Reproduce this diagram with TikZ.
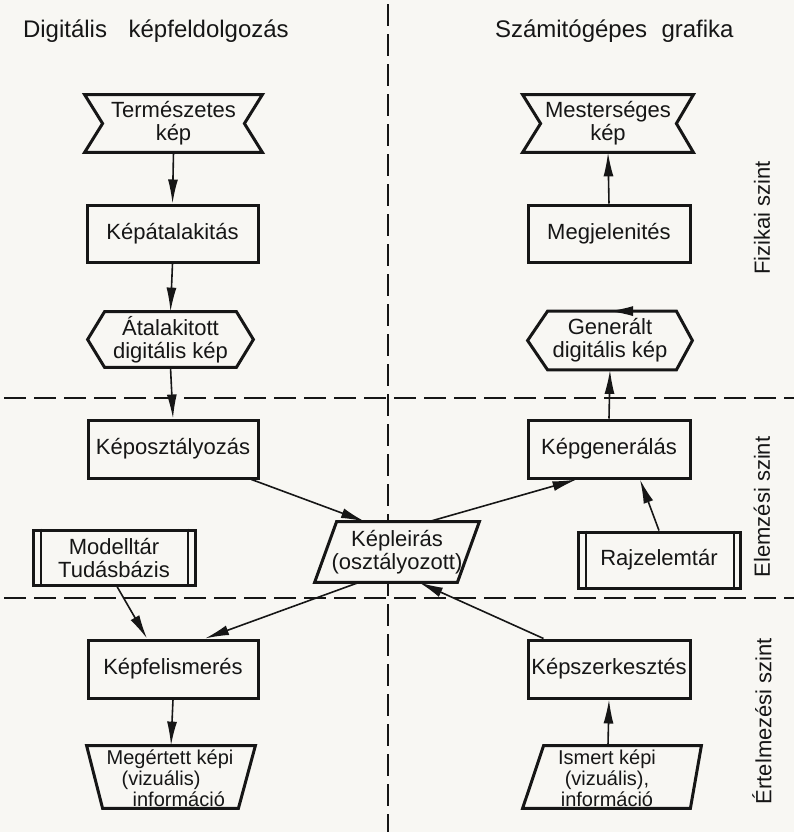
\documentclass[tikz,border=0pt]{standalone}
\usepackage{fontspec}
\setmainfont{Liberation Sans}
\usetikzlibrary{arrows.meta,calc}
\definecolor{paper}{RGB}{248,247,243}
\definecolor{ink}{RGB}{22,22,22}
\begin{document}
\begin{tikzpicture}[x=0.5pt,y=-0.5pt,
  every node/.style={font=\fontsize{11}{11.5}\selectfont, text=ink},
  frame/.style={draw=none, inner sep=0pt},
  box/.style={draw=ink, line width=1.5pt, fill=paper, inner sep=0pt, align=center},
  outline/.style={draw=ink, line width=1.5pt, fill=paper, line join=miter},
  inner/.style={draw=ink, line width=1pt},
  conn/.style={draw=ink, line width=0.8pt, -{Latex[length=12pt,width=5pt]}},
  sep/.style={draw=ink, line width=0.8pt, dash pattern=on 11pt off 4pt},
  tight/.style={font=\fontsize{10}{8.8}\selectfont},
  level/.style={rotate=90},
  head/.style={anchor=west, font=\fontsize{12}{13}\selectfont}]

\fill[paper] (0,0) rectangle (794,832);
\useasboundingbox (0,0) rectangle (794,832);

% separators
\draw[sep] (388,4) -- (388,832);
\draw[sep] (4,398) -- (794,398);
\draw[sep] (4,598) -- (794,598);

% headers and level labels
\node[head] (h1) at (16,31) {Digitális\hspace{0.9em}képfeldolgozás};
\node[head] (h2) at (488,31) {Számitógépes\hspace{0.6em}grafika};
\node[level] (l1) at (762,218) {Fizikai szint};
\node[level] (l2) at (762,507) {Elemzési szint};
\node[level] (l3) at (762,721) {Értelmezési szint};

% --- left column ---
\node[frame, minimum width=88.5pt, minimum height=28.5pt] (term) at (173.5,123.5) {};
\path[outline] (term.north west) -- (term.north east) -- ([xshift=-9pt]term.east)
  -- (term.south east) -- (term.south west) -- ([xshift=9pt]term.west) -- cycle;
\node[align=center] (term-t) at (term) {Természetes\\kép};

\node[box, minimum width=85.5pt, minimum height=28.5pt] (kat) at (172.5,233.5) {Képátalakitás};

\node[frame, minimum width=82.5pt, minimum height=27.5pt] (atal) at (170.5,339.5) {};
\path[outline] ([xshift=8.5pt]atal.north west) -- ([xshift=-8.5pt]atal.north east) -- (atal.east)
  -- ([xshift=-8.5pt]atal.south east) -- ([xshift=8.5pt]atal.south west) -- (atal.west) -- cycle;
\node[align=center] (atal-t) at (atal) {Átalakitott\\digitális kép};

\node[box, minimum width=85pt, minimum height=29pt] (kosz) at (173,449) {Képosztályozás};

\node[box, minimum width=81pt, minimum height=27.5pt] (modell) at (114,557.5) {Modelltár\\Tudásbázis};
\draw[inner] ([xshift=4.5pt]modell.north west) -- ([xshift=4.5pt]modell.south west);
\draw[inner] ([xshift=-4.5pt]modell.north east) -- ([xshift=-4.5pt]modell.south east);

\node[box, minimum width=85pt, minimum height=29pt] (kfel) at (173,669) {Képfelismerés};

\node[frame, minimum width=84pt, minimum height=31pt] (meg) at (171,777) {};
\path[outline] (meg.north west) -- (meg.north east) -- ([xshift=-8.5pt]meg.south east)
  -- ([xshift=8pt]meg.south west) -- cycle;
\node[tight, align=left] (meg-t) at (170,778) {Megértett képi\\\hspace*{7.5pt}(vizuális)\\\hspace*{13pt}információ};

% --- middle ---
\node[frame, minimum width=82pt, minimum height=30pt] (kleir) at (397,552) {};
\path[outline] ([xshift=11pt]kleir.north west) -- (kleir.north east) -- ([xshift=-11pt]kleir.south east)
  -- (kleir.south west) -- cycle;
\node[align=center] (kleir-t) at (kleir) {Képleirás\\(osztályozott)};

% --- right column ---
\node[frame, minimum width=85pt, minimum height=28.5pt] (mest) at (608,123.5) {};
\path[outline] (mest.north west) -- (mest.north east) -- ([xshift=-8.5pt]mest.east)
  -- (mest.south east) -- (mest.south west) -- ([xshift=9pt]mest.west) -- cycle;
\node[align=center] (mest-t) at (mest) {Mesterséges\\kép};

\node[box, minimum width=81pt, minimum height=28.5pt] (megj) at (609,233.5) {Megjelenités};

\node[frame, minimum width=82pt, minimum height=29pt] (gen) at (610,340.5) {};
\path[outline] ([xshift=10pt]gen.north west) -- ([xshift=-8pt]gen.north east) -- (gen.east)
  -- ([xshift=-8pt]gen.south east) -- ([xshift=10pt]gen.south west) -- (gen.west) -- cycle;
\node[align=center] (gen-t) at (gen) {Generált\\digitális kép};

\node[box, minimum width=81pt, minimum height=29pt] (kgen) at (609,449) {Képgenerálás};

\node[box, minimum width=81pt, minimum height=28pt] (rajz) at (659,560) {Rajzelemtár};
\draw[inner] ([xshift=4.5pt]rajz.north west) -- ([xshift=4.5pt]rajz.south west);
\draw[inner] ([xshift=-4pt]rajz.north east) -- ([xshift=-4pt]rajz.south east);

\node[box, minimum width=81pt, minimum height=29pt] (ksz) at (609,669) {Képszerkesztés};

\node[frame, minimum width=89pt, minimum height=31pt] (ism) at (612,777) {};
\path[outline] ([xshift=10.5pt]ism.north west) -- (ism.north east) -- ([xshift=-5.5pt]ism.south east)
  -- (ism.south west) -- cycle;
\node[tight, align=center] (ism-t) at (607,778) {Ismert képi\\(vizuális),\\információ};

% --- connectors ---
\draw[conn] (term.south) -- (kat.north);
\draw[conn] (kat.south) -- (atal.north);
\draw[conn] (atal.south) -- (kosz.north);
\draw[conn] ([xshift=-4pt]kosz.south east) -- ([xshift=-16pt]kleir.north);
\draw[conn] ([xshift=16pt]kleir.north) -- ([xshift=25pt]kgen.south west);
\draw[conn] (rajz.north) -- ([xshift=15.5pt]kgen.south);
\draw[conn] ([xshift=-19pt]kleir.south) -- ([xshift=16pt]kfel.north);
\draw[conn] ([xshift=1.5pt]modell.south) -- ([xshift=-13pt]kfel.north);
\draw[conn] ([xshift=8.5pt]ksz.north west) -- ([xshift=11pt]kleir.south);
\draw[conn] (kfel.south) -- (meg.north);
\draw[conn] ([xshift=-2pt]ism.north) -- (ksz.south);
\draw[conn] (kgen.north) -- (gen.south);
\draw[conn] (gen.north) -- (megj.north |- gen.north) ;
\draw[conn] (megj.north) -- (mest.south);
\end{tikzpicture}
\end{document}
